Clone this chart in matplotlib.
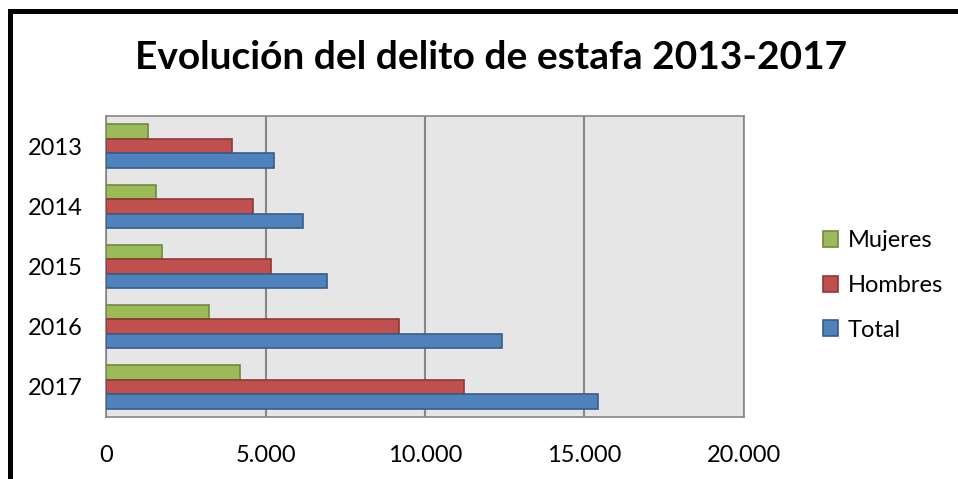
import matplotlib.pyplot as plt
from matplotlib.patches import Rectangle
from matplotlib.ticker import FuncFormatter
import numpy as np

# datos
anios = ["2013", "2014", "2015", "2016", "2017"]
mujeres = [1300, 1560, 1750, 3230, 4190]
hombres = [3950, 4620, 5170, 9190, 11230]
total = [5260, 6180, 6920, 12410, 15410]
ticks_x = [0, 5000, 10000, 15000, 20000]

series = [
    ("Mujeres", mujeres, "#9BBB59", "#71893F"),
    ("Hombres", hombres, "#C0504D", "#8C3836"),
    ("Total", total, "#4F81BD", "#385D8A"),
]

plt.rcParams['font.family'] = ['Lato', 'DejaVu Sans']

fig = plt.figure(figsize=(9.58, 4.79), dpi=100)
ax = fig.add_axes([0.1107, 0.1294, 0.6659, 0.6284])
ax.set_facecolor("#E6E6E6")

y = np.arange(len(anios))
alto = 0.24
for i, (nombre, vals, color, borde) in enumerate(series):
    ax.barh(y + (i - 1) * alto, vals, height=alto, color=color,
            edgecolor=borde, linewidth=1.2, label=nombre, zorder=3)

ax.set_xlim(0, 20000)
ax.set_ylim(len(anios) - 0.5, -0.5)
ax.set_xticks(ticks_x)
ax.xaxis.set_major_formatter(FuncFormatter(lambda v, p: f"{int(v):,}".replace(",", ".")))
ax.set_yticks(y)
ax.set_yticklabels(anios)
ax.tick_params(axis='x', length=0, pad=20, labelsize=17)
ax.tick_params(axis='y', length=0, pad=17, labelsize=17)
ax.grid(axis='x', color="#868686", linewidth=1.5, zorder=0)
for s in ax.spines.values():
    s.set_color("#868686")
    s.set_linewidth(1.2)

fig.text(0.513, 0.879, "Evolución del delito de estafa 2013-2017",
         ha='center', va='center', fontsize=28, fontweight='bold')

ax.legend(loc='center left', bbox_to_anchor=(1.09, 0.437), frameon=False,
          fontsize=17, handlelength=0.65, handleheight=0.65,
          labelspacing=1.0, handletextpad=0.4)

# marco negro de la figura
fig.patches.append(Rectangle((10 / 958, -0.1), 1.2, 1.1 - 10.5 / 479,
                             transform=fig.transFigure, fill=False,
                             edgecolor='black', linewidth=3.6))

fig.savefig("out.png", dpi=100)
